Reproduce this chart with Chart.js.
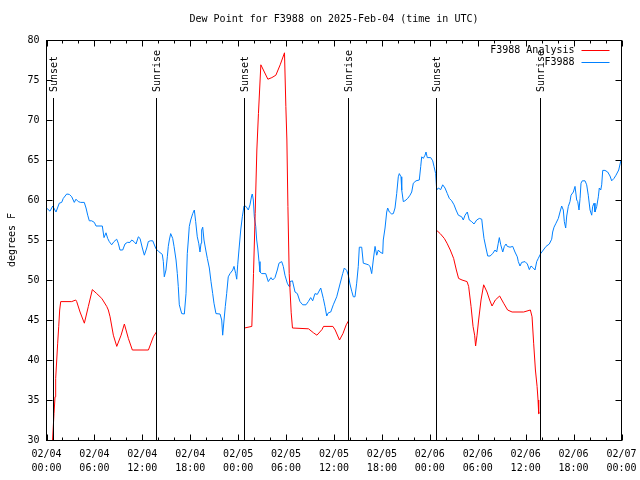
<!DOCTYPE html>
<html><head><meta charset="utf-8">
<script src="https://cdn.jsdelivr.net/npm/chart.js@4/dist/chart.umd.min.js"></script>
<style>html,body{margin:0;padding:0;background:#fff}canvas{display:block}</style>
</head><body>
<canvas id="c" width="640" height="480"></canvas>
<script>
const chartTitle = 'Dew Point for F3988 on 2025-Feb-04 (time in UTC)';
const yAxisLabel = 'degrees F';
const dayLabels = ['02/04', '02/05', '02/06', '02/07'];
const seriesNames = ['F3988 Analysis', 'F3988'];
const seriesColors = ['#ff0000', '#0080ff'];
const sunEventHours = [0.83, 13.75, 24.77, 37.8, 48.83, 61.75];
const sunEventLabels = ['Sunset', 'Sunrise', 'Sunset', 'Sunrise', 'Sunset', 'Sunrise'];

// hours since 02/04 00:00 UTC; null = no analysis (daytime gap)
const analysisHours = [
  0.70, 0.94, 1.07, 1.15, 1.28, 1.40, 1.53, 1.65, 1.78, 3.16, 3.66, 3.78, 4.20, 4.74, 5.24, 5.74, 6.29, 6.92, 7.54, 7.74, 7.96, 8.37, 8.80, 9.34, 9.75, 10.25, 10.75, 12.76, 13.38, 13.76,
  14.0,
  24.79, 25.71, 25.92, 26.13, 26.34, 26.54, 26.84, 27.72, 28.22, 28.72, 29.26, 29.80, 29.97, 30.10, 30.23, 30.39, 30.64, 30.80, 32.81, 33.43, 33.86, 34.49, 34.69, 35.86, 36.15, 36.69, 37.12, 37.53, 37.82,
  38.0,
  48.8, 49.3, 49.81, 50.15, 50.56, 50.98, 51.32, 51.6, 52.03, 52.66, 52.86, 53.16, 53.41, 53.61, 53.73, 53.91, 54.11, 54.41, 54.74, 55.16, 55.49, 55.79, 56.2, 56.74, 57.24, 57.74, 58.3, 59.75, 60.59, 60.8, 61.0, 61.22, 61.43, 61.55, 61.63, 61.75
];
const analysisDewPoint = [
  29.0, 33.3, 35.4, 37.7, 40.0, 42.1, 44.2, 46.25, 47.3, 47.3, 47.5, 47.3, 46.0, 44.6, 46.7, 48.8, 48.3, 47.7, 46.7, 46.25, 45.4, 43.1, 41.7, 43.1, 44.5, 42.7, 41.25, 41.25, 42.9, 43.5,
  null,
  44.0, 44.2, 50.8, 58.3, 66.25, 70.8, 76.9, 75.1, 75.3, 75.6, 76.9, 78.4, 71.7, 67.5, 59.2, 50.8, 45.9, 44.0, 43.9, 43.4, 43.1, 43.8, 44.2, 44.2, 43.75, 42.5, 43.3, 44.4, 44.9,
  null,
  56.25, 55.8, 55.2, 54.6, 53.75, 52.7, 51.25, 50.2, 50.0, 49.8, 49.2, 46.7, 44.2, 43.1, 41.75, 43.1, 45.0, 47.5, 49.4, 48.5, 47.5, 46.75, 47.5, 48.0, 47.1, 46.25, 46.0, 46.0, 46.25, 45.4, 42.1, 38.75, 36.7, 35.0, 33.3, 33.4
];

const stationHours = [
  0.00,0.44,0.78,1.19,1.60,1.90,2.10,2.53,2.86,3.16,
  3.48,3.69,3.98,4.28,4.73,4.95,5.16,5.36,5.66,5.99,
  6.20,6.99,7.20,7.45,7.66,7.86,8.16,8.45,8.79,8.99,
  9.20,9.54,9.83,10.12,10.46,10.67,10.96,11.21,11.50,11.71,
  12.00,12.25,12.55,12.75,13.00,13.30,13.71,14.00,14.50,14.63,
  14.75,14.96,15.13,15.25,15.38,15.55,15.80,15.97,16.22,16.38,
  16.50,16.63,16.93,17.26,17.47,17.63,17.76,17.88,18.06,18.31,
  18.51,18.68,18.88,19.06,19.22,19.35,19.43,19.56,19.72,19.94,
  20.14,20.39,20.60,20.81,20.97,21.22,21.73,21.94,22.06,22.23,
  22.39,22.56,22.76,22.98,23.32,23.48,23.69,23.82,23.94,24.10,
  24.32,24.52,24.73,24.98,25.27,25.48,25.70,25.77,25.90,26.02,
  26.20,26.32,26.45,26.61,26.73,26.95,27.45,27.77,28.11,28.32,
  28.61,28.90,29.11,29.45,29.65,29.86,30.15,30.37,30.49,30.80,
  31.12,31.41,31.74,32.08,32.49,32.78,33.08,33.33,33.62,33.91,
  34.34,34.66,34.87,35.09,35.29,35.59,35.91,36.34,36.75,37.09,
  37.29,37.59,37.79,38.00,38.22,38.42,38.63,38.84,39.04,39.17,
  39.47,39.67,40.01,40.30,40.51,40.72,40.92,41.14,41.35,41.55,
  41.76,42.10,42.17,42.39,42.60,42.72,42.93,43.23,43.43,43.64,
  43.85,44.05,44.18,44.39,44.48,44.68,44.89,45.23,45.52,45.73,
  45.93,46.27,46.68,46.86,46.98,47.18,47.40,47.52,47.68,48.11,
  48.36,48.52,48.73,48.86,49.06,49.36,49.61,49.90,50.19,50.44,
  50.74,51.03,51.28,51.57,51.99,52.19,52.41,52.69,52.94,53.24,
  53.53,53.87,54.20,54.50,54.62,54.78,55.03,55.25,55.54,55.87,
  56.16,56.37,56.57,56.70,56.88,57.13,57.33,57.54,57.70,58.04,
  58.38,58.66,58.95,59.08,59.29,59.50,59.92,60.21,60.46,60.67,
  60.96,61.17,61.38,61.58,61.88,62.21,62.55,62.96,63.26,63.38,
  63.55,63.80,64.09,64.30,64.51,64.71,64.84,65.01,65.14,65.34,
  65.55,65.68,65.97,66.18,66.39,66.52,66.68,66.81,66.93,67.09,
  67.43,67.64,67.84,68.06,68.27,68.39,68.56,68.68,68.90,69.10,
  69.22,69.40,69.52,69.65,69.93,70.27,70.56,70.77,71.06,71.31,
  71.65,71.82,71.94
];
const stationDewPoint = [
  59.0,58.6,59.25,58.5,59.6,59.7,60.2,60.75,60.7,60.4,
  59.7,60.1,59.8,59.7,59.7,59.0,58.1,57.4,57.4,57.2,
  56.75,56.75,55.3,55.9,55.2,54.8,54.4,54.8,55.1,54.6,
  53.75,53.75,54.5,54.7,54.7,55.0,54.8,54.5,55.4,55.2,
  54.0,53.1,54.0,54.8,54.9,54.9,53.9,53.6,53.2,52.3,
  50.4,51.25,52.9,54.2,55.0,55.8,55.2,54.2,52.5,50.8,
  49.2,46.9,45.8,45.75,48.3,53.3,55.0,56.7,57.5,58.3,
  58.75,57.3,55.4,54.6,53.5,54.6,56.25,56.6,55.0,53.75,
  52.7,51.5,49.8,48.3,47.1,45.8,45.75,45.0,43.1,45.0,
  46.7,48.3,50.4,50.8,51.25,51.7,50.8,50.1,51.9,53.75,
  56.25,57.9,59.25,59.2,58.75,59.4,60.6,60.75,60.0,57.9,
  56.7,55.0,54.0,52.3,51.0,50.8,50.8,49.8,50.3,50.0,
  50.3,51.25,52.1,52.3,51.7,50.6,49.6,49.2,49.8,49.9,
  48.5,48.3,47.3,46.9,46.9,47.3,47.8,47.4,48.3,48.2,
  49.0,47.7,46.7,45.5,45.9,46.0,46.9,47.9,49.5,50.8,
  51.5,51.2,50.6,49.5,48.6,47.9,47.9,49.6,51.7,54.1,
  54.1,52.1,52.0,51.9,51.7,50.8,52.5,54.2,53.1,53.75,
  53.5,53.3,55.0,56.5,58.5,59.0,58.5,58.25,58.3,59.0,
  60.8,62.9,63.3,62.9,61.25,59.8,59.9,60.2,60.6,61.0,
  62.1,62.4,62.5,64.2,65.4,65.2,65.6,66.0,65.3,65.3,
  64.9,64.2,63.3,61.25,61.5,61.3,61.9,61.5,60.8,60.2,
  59.9,59.4,58.75,58.1,57.9,57.5,58.1,58.5,57.5,57.3,
  57.0,57.5,57.7,57.6,56.5,55.2,54.0,53.0,53.0,53.3,
  53.75,53.5,54.6,55.3,54.4,53.5,54.2,54.5,54.2,54.1,
  54.2,53.5,52.9,52.3,51.75,52.2,52.3,52.0,51.3,51.75,
  51.5,51.25,52.3,52.7,53.3,53.75,54.2,54.5,55.1,56.0,
  56.6,57.1,57.7,58.5,59.25,58.75,57.3,56.5,58.0,59.2,
  59.8,60.6,61.0,61.7,60.0,59.8,58.75,60.2,62.1,62.4,
  62.4,61.9,60.6,58.75,58.1,59.2,59.6,58.5,59.2,60.4,
  61.5,61.25,61.9,63.7,63.7,63.5,63.0,62.4,62.7,63.1,
  63.75,64.5,65.0
];

const FONT = '"DejaVu Sans Mono", "Liberation Mono", monospace';
Chart.defaults.font.family = FONT;
Chart.defaults.font.size = 10;
Chart.defaults.color = '#000';

const toPoints = (xs, ys) => xs.map((h, i) => ({ x: h, y: ys[i] }));

const decor = {
  id: 'decor',
  afterDatasetsDraw(chart) {
    const { ctx, chartArea: a, scales: { x, y } } = chart;
    ctx.save();
    ctx.font = '10px ' + FONT;
    ctx.fillStyle = '#000';
    ctx.strokeStyle = '#000';
    ctx.lineWidth = 1;
    // sunrise / sunset markers
    sunEventHours.forEach((h, i) => {
      const px = Math.round(x.getPixelForValue(h)) + 0.5;
      ctx.beginPath();
      ctx.moveTo(px, a.top + 58);
      ctx.lineTo(px, a.bottom);
      ctx.stroke();
      ctx.save();
      ctx.translate(px + 1, a.top + 52);
      ctx.rotate(-Math.PI / 2);
      ctx.textAlign = 'left';
      ctx.textBaseline = 'middle';
      ctx.fillText(sunEventLabels[i], 0, 0);
      ctx.restore();
    });
    // frame
    const L = Math.floor(a.left) + 0.5, R = Math.floor(a.right) + 0.5;
    const T = Math.floor(a.top) + 0.5, B = Math.floor(a.bottom) + 0.5;
    ctx.strokeRect(L, T, R - L, B - T);
    // inward ticks
    ctx.beginPath();
    for (let v = y.min; v <= y.max; v += 5) {
      const py = Math.round(y.getPixelForValue(v)) + 0.5;
      ctx.moveTo(L, py); ctx.lineTo(L + 6, py);
      ctx.moveTo(R, py); ctx.lineTo(R - 6, py);
    }
    for (let h = x.min; h <= x.max; h += 2) {
      const px = Math.round(x.getPixelForValue(h)) + 0.5;
      const len = h % 6 === 0 ? 6 : 3;
      ctx.moveTo(px, B); ctx.lineTo(px, B - len);
      ctx.moveTo(px, T); ctx.lineTo(px, T + len);
    }
    ctx.stroke();
    // title
    ctx.textAlign = 'center';
    ctx.textBaseline = 'middle';
    ctx.fillText(chartTitle, (a.left + a.right) / 2, 19.5);
    // y label
    ctx.save();
    ctx.translate(12, (a.top + a.bottom) / 2);
    ctx.rotate(-Math.PI / 2);
    ctx.fillText(yAxisLabel, 0, 0);
    ctx.restore();
    // legend
    seriesNames.forEach((name, i) => {
      const ly = a.top + 10 + i * 12;
      ctx.textAlign = 'right';
      ctx.textBaseline = 'middle';
      ctx.fillStyle = '#000';
      ctx.fillText(name, a.right - 47, ly);
      ctx.beginPath();
      ctx.strokeStyle = seriesColors[i];
      ctx.moveTo(a.right - 40, Math.round(ly) + 0.5);
      ctx.lineTo(a.right - 12, Math.round(ly) + 0.5);
      ctx.stroke();
    });
    ctx.restore();
  }
};

new Chart(document.getElementById('c'), {
  type: 'line',
  data: {
    datasets: [
      {
        label: seriesNames[0],
        data: toPoints(analysisHours, analysisDewPoint),
        borderColor: seriesColors[0],
        borderWidth: 1,
        pointRadius: 0,
        tension: 0,
        spanGaps: false
      },
      {
        label: seriesNames[1],
        data: toPoints(stationHours, stationDewPoint),
        borderColor: seriesColors[1],
        borderWidth: 1,
        pointRadius: 0,
        tension: 0
      }
    ]
  },
  options: {
    responsive: false,
    animation: false,
    events: [],
    layout: { padding: { left: 0, right: 18.5, top: 40, bottom: 0 } },
    plugins: { legend: { display: false }, tooltip: { enabled: false }, title: { display: false } },
    scales: {
      x: {
        type: 'linear',
        min: 0,
        max: 72,
        grid: { display: false, drawTicks: false },
        border: { display: false },
        ticks: {
          stepSize: 6,
          autoSkip: false,
          maxRotation: 0,
          padding: 7,
          font: { size: 10, lineHeight: 1.4 },
          callback: (v) => {
            const d = Math.floor(v / 24);
            const h = v - d * 24;
            return [dayLabels[d], String(h).padStart(2, '0') + ':00'];
          }
        },
        afterFit: (s) => { s.height = 40; s.paddingLeft = 0; s.paddingRight = 0; }
      },
      y: {
        min: 30,
        max: 80,
        grid: { display: false, drawTicks: false },
        border: { display: false },
        ticks: { stepSize: 5, padding: 7 },
        afterFit: (s) => { s.width = 46.5; s.paddingTop = 0; s.paddingBottom = 0; }
      }
    }
  },
  plugins: [decor]
});
</script>
</body></html>
